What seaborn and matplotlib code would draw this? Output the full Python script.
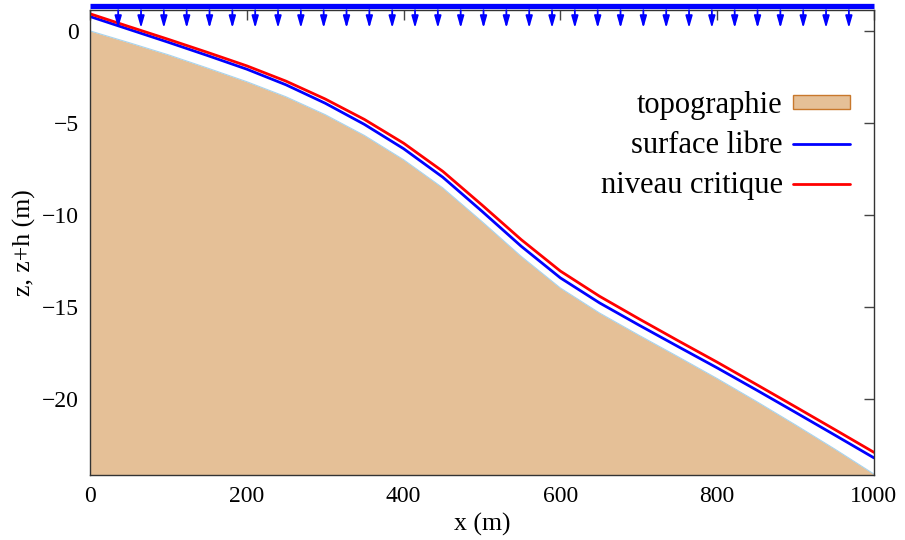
#!/usr/bin/env python

import pandas
import seaborn as sns
import matplotlib.pyplot as plt

# values (every 50 m)
x_m = [0, 50, 100, 150, 200, 250, 300, 350, 400, 450, 500,
       550, 600, 650, 700, 750, 800, 850, 900, 950, 1000]
topo = [0.0, -0.64, -1.30, -2.02, -2.76, -3.58, -4.55, -5.68, -7.00, -8.53, -10.36,
        -12.25, -13.97, -15.33, -16.53, -17.70, -18.89, -20.13, -21.41, -22.72, -24.08]
surface_libre = [0.78, 0.08, -0.62, -1.34, -2.08, -2.93, -3.93, -5.08, -6.40, -7.95, -9.80,
                 -11.70, -13.42, -14.78, -15.98, -17.15, -18.31, -19.51, -20.73, -21.96, -23.20]
niveau_critique = [0.93, 0.23, -0.46, -1.17, -1.90, -2.73, -3.70, -4.81, -6.10, -7.63, -9.46,
                   -11.34, -13.05, -14.42, -15.64, -16.83, -18.00, -19.21, -20.43, -21.66, -22.90]

# rain arrows along the top
rain_x = [36 + 29.125 * i for i in range(33)]

xticks = [0, 200, 400, 600, 800, 1000]
yticks = [0, -5, -10, -15, -20]

sns.set_style("white")
plt.rcParams['font.family'] = ['Liberation Serif', 'DejaVu Serif']
plt.rcParams['text.color'] = 'black'
plt.rcParams['axes.labelcolor'] = 'black'
plt.rcParams['xtick.color'] = 'black'
plt.rcParams['ytick.color'] = 'black'

df = pandas.DataFrame({'x': x_m, 'topo': topo, 'h': surface_libre, 'hc': niveau_critique})

fig = plt.figure(figsize=(9.05, 5.4), dpi=100)
ax = fig.add_axes([0.0994, 0.1204, 0.8663, 0.8606])

ymin, ymax = -24.13, 1.12
ax.fill_between(df['x'], df['topo'], ymin - 1, color='#e5c097', lw=0, label='topographie')
ax.plot(df['x'], df['topo'], color='#a8d4ee', lw=0.8)
sns.lineplot(data=df, x='x', y='h', color='#0000ff', lw=2, label='surface libre', ax=ax)
sns.lineplot(data=df, x='x', y='hc', color='#ff0000', lw=2, label='niveau critique', ax=ax)

# rain
ax.plot([0, 1000], [1.33, 1.33], color='#0000ff', lw=3.8, clip_on=False, solid_capstyle='butt')
for xr in rain_x:
    ax.annotate('', xy=(xr, 0.15), xytext=(xr, ymax),
                arrowprops=dict(arrowstyle='-|>,head_length=0.7,head_width=0.2',
                                color='#0000ff', lw=1.3, shrinkA=0, shrinkB=0))

ax.set_xlim(0, 1000)
ax.set_ylim(ymin, ymax)
ax.set_xticks(xticks)
ax.set_yticks(yticks)
ax.tick_params(direction='in', length=7, width=1, color='#444444', labelcolor='black',
               labelsize=17, top=True, right=True, pad=8)
for s in ax.spines.values():
    s.set_color('#333333')
    s.set_linewidth(1)
ax.set_xlabel('x (m)', fontsize=18.5, labelpad=4)
ax.set_ylabel('z, z+h (m)', fontsize=18.5, labelpad=4)

handles, labels = ax.get_legend_handles_labels()
leg = ax.legend(handles, labels, loc='upper right', bbox_to_anchor=(0.9694, 0.826),
                frameon=False, markerfirst=False, fontsize=22, handlelength=1.85,
                handleheight=0.3, labelspacing=0.36, handletextpad=0.35,
                borderpad=0, borderaxespad=0)
leg.legend_handles[0].set_edgecolor('#c8782c')
leg.legend_handles[0].set_linewidth(1)

plt.savefig("out.png", dpi=100)
